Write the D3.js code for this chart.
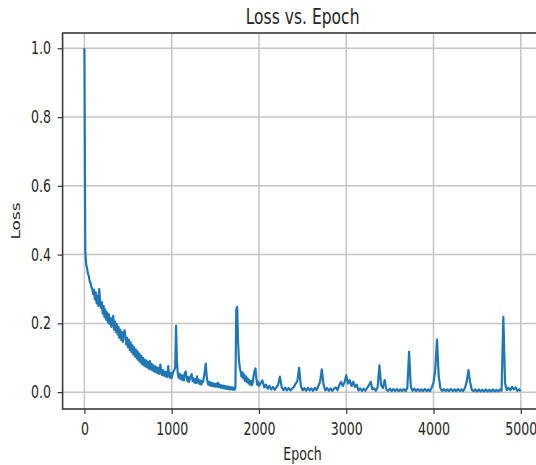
<!DOCTYPE html>
<html>
<head>
<meta charset="utf-8">
<script src="https://cdn.jsdelivr.net/npm/d3@7"></script>
<style>
  body { margin: 0; background: #fff; }
  svg { display: block; font-family: "DejaVu Sans", sans-serif; }
</style>
</head>
<body>
<svg id="chart" width="536" height="465"></svg>
<script>
// loss every 10 epochs, epochs 0..1990
const fineStep = 10;
const lossFine = [
  1.0, 0.41, 0.372, 0.36, 0.345, 0.338, 0.322, 0.318, 0.305, 0.3,
  0.285, 0.298, 0.27, 0.29, 0.258, 0.28, 0.25, 0.3, 0.262, 0.245,
  0.262, 0.228, 0.25, 0.218, 0.24, 0.21, 0.232, 0.203, 0.226, 0.198,
  0.215, 0.19, 0.212, 0.222, 0.182, 0.205, 0.175, 0.198, 0.168, 0.19,
  0.158, 0.182, 0.152, 0.175, 0.146, 0.168, 0.18, 0.162, 0.138, 0.158,
  0.13, 0.152, 0.122, 0.145, 0.116, 0.136, 0.11, 0.13, 0.104, 0.124,
  0.098, 0.118, 0.092, 0.112, 0.087, 0.106, 0.082, 0.1, 0.078, 0.095,
  0.075, 0.092, 0.072, 0.088, 0.068, 0.09, 0.066, 0.082, 0.063, 0.078,
  0.06, 0.075, 0.058, 0.072, 0.055, 0.07, 0.053, 0.08, 0.062, 0.05,
  0.064, 0.048, 0.06, 0.046, 0.058, 0.044, 0.076, 0.052, 0.042, 0.056,
  0.041, 0.052, 0.06, 0.065, 0.07, 0.193, 0.09, 0.055, 0.042, 0.054,
  0.038, 0.05, 0.036, 0.048, 0.034, 0.055, 0.06, 0.045, 0.032, 0.044,
  0.03, 0.042, 0.048, 0.052, 0.032, 0.04, 0.028, 0.038, 0.026, 0.046,
  0.028, 0.036, 0.024, 0.034, 0.022, 0.032, 0.03, 0.045, 0.06, 0.083,
  0.05, 0.03, 0.022, 0.03, 0.019, 0.028, 0.018, 0.026, 0.017, 0.025,
  0.016, 0.024, 0.016, 0.027, 0.015, 0.022, 0.013, 0.02, 0.012, 0.019,
  0.011, 0.018, 0.01, 0.017, 0.009, 0.016, 0.008, 0.015, 0.008, 0.014,
  0.007, 0.013, 0.007, 0.012, 0.24, 0.248, 0.15, 0.095, 0.07, 0.06,
  0.045, 0.058, 0.04, 0.052, 0.033, 0.046, 0.03, 0.04, 0.025, 0.035,
  0.022, 0.032, 0.02, 0.03, 0.05, 0.062, 0.069, 0.04, 0.022, 0.03
];

// loss every 20 epochs, epochs 2000..5000
const coarseStart = 2000;
const coarseStep = 20;
const lossCoarse = [
  0.018, 0.026, 0.034, 0.014, 0.022, 0.01, 0.018, 0.008, 0.015, 0.007,
  0.014, 0.022, 0.045, 0.015, 0.006, 0.013, 0.005, 0.012, 0.005, 0.011,
  0.015, 0.025, 0.032, 0.071, 0.018, 0.005, 0.012, 0.004, 0.013, 0.005,
  0.011, 0.004, 0.012, 0.006, 0.018, 0.03, 0.066, 0.022, 0.005, 0.012,
  0.004, 0.011, 0.004, 0.01, 0.014, 0.006, 0.02, 0.03, 0.018, 0.028,
  0.049, 0.025, 0.035, 0.018, 0.03, 0.015, 0.022, 0.005, 0.011, 0.004,
  0.01, 0.004, 0.012, 0.02, 0.03, 0.008, 0.011, 0.004, 0.015, 0.078,
  0.02, 0.012, 0.035, 0.008, 0.004, 0.01, 0.003, 0.009, 0.003, 0.009,
  0.003, 0.008, 0.003, 0.009, 0.003, 0.012, 0.117, 0.015, 0.004, 0.01,
  0.003, 0.009, 0.003, 0.008, 0.003, 0.009, 0.003, 0.008, 0.003, 0.014,
  0.028, 0.064, 0.153, 0.045, 0.01, 0.003, 0.009, 0.003, 0.008, 0.003,
  0.009, 0.003, 0.008, 0.003, 0.009, 0.003, 0.008, 0.003, 0.012, 0.03,
  0.064, 0.028, 0.006, 0.003, 0.008, 0.002, 0.008, 0.002, 0.007, 0.002,
  0.008, 0.002, 0.007, 0.002, 0.008, 0.002, 0.007, 0.002, 0.008, 0.004,
  0.219, 0.025, 0.006, 0.012, 0.006, 0.015, 0.008, 0.014, 0.004, 0.008,
  0.003
];

const xTicks = [0, 1000, 2000, 3000, 4000, 5000];
const yTicks = [0.0, 0.2, 0.4, 0.6, 0.8, 1.0];

const data = lossFine.map((v, i) => ({ epoch: i * fineStep, loss: v }))
  .concat(lossCoarse.map((v, i) => ({ epoch: coarseStart + i * coarseStep, loss: v })));

const svg = d3.select("#chart");
const margin = { left: 62.6, top: 33, right: 542.6, bottom: 409 };
const squeeze = 0.74; // text in the reference is narrowed horizontally

const x = d3.scaleLinear().domain([-250, 5250]).range([margin.left, margin.right]);
const y = d3.scaleLinear().domain([-0.049, 1.0445]).range([margin.bottom, margin.top]);

// grid
svg.append("g")
  .selectAll("line.vgrid")
  .data(xTicks)
  .join("line")
  .attr("x1", d => x(d)).attr("x2", d => x(d))
  .attr("y1", margin.top).attr("y2", margin.bottom)
  .attr("stroke", "#c4c4c4").attr("stroke-width", 1.5);

svg.append("g")
  .selectAll("line.hgrid")
  .data(yTicks)
  .join("line")
  .attr("x1", margin.left).attr("x2", margin.right)
  .attr("y1", d => y(d)).attr("y2", d => y(d))
  .attr("stroke", "#c4c4c4").attr("stroke-width", 1.5);

// line
const line = d3.line().x(d => x(d.epoch)).y(d => y(d.loss));
svg.append("path")
  .datum(data)
  .attr("fill", "none")
  .attr("stroke", "#1f77b4")
  .attr("stroke-width", 2.2)
  .attr("stroke-linejoin", "round")
  .attr("d", line);

// axes
const xAxis = svg.append("g")
  .attr("transform", `translate(0,${margin.bottom})`)
  .call(d3.axisBottom(x).tickValues(xTicks).tickFormat(d3.format("d")).tickSize(5).tickPadding(8.7));

const yAxis = svg.append("g")
  .attr("transform", `translate(${margin.left},0)`)
  .call(d3.axisLeft(y).tickValues(yTicks).tickFormat(d3.format(".1f")).tickSize(5).tickPadding(6.6));

[xAxis, yAxis].forEach(ax => {
  ax.select(".domain").remove();
  ax.selectAll(".tick line").attr("stroke", "#333").attr("stroke-width", 1.2);
  ax.selectAll(".tick text")
    .attr("fill", "#262626")
    .attr("font-size", 17)
    .attr("font-family", "DejaVu Sans, sans-serif");
});
xAxis.selectAll(".tick text").attr("transform", `scale(${squeeze},1)`);
yAxis.selectAll(".tick text")
  .attr("x", -11.6 / squeeze)
  .attr("transform", `scale(${squeeze},1)`);

// spines
svg.append("rect")
  .attr("x", margin.left).attr("y", margin.top)
  .attr("width", margin.right - margin.left)
  .attr("height", margin.bottom - margin.top)
  .attr("fill", "none")
  .attr("stroke", "#3a3a3a")
  .attr("stroke-width", 1.6);

// title and labels
const cx = (margin.left + margin.right) / 2;
svg.append("text")
  .attr("transform", `translate(${cx},24) scale(${squeeze},1)`)
  .attr("text-anchor", "middle")
  .attr("font-size", 21)
  .attr("fill", "#262626")
  .text("Loss vs. Epoch");

svg.append("text")
  .attr("transform", `translate(${cx},460) scale(${squeeze},1)`)
  .attr("text-anchor", "middle")
  .attr("font-size", 17)
  .attr("fill", "#262626")
  .text("Epoch");

svg.append("text")
  .attr("transform", `translate(20,${(margin.top + margin.bottom) / 2}) rotate(-90) scale(1,${squeeze})`)
  .attr("text-anchor", "middle")
  .attr("font-size", 17)
  .attr("fill", "#262626")
  .text("Loss");
</script>
</body>
</html>
